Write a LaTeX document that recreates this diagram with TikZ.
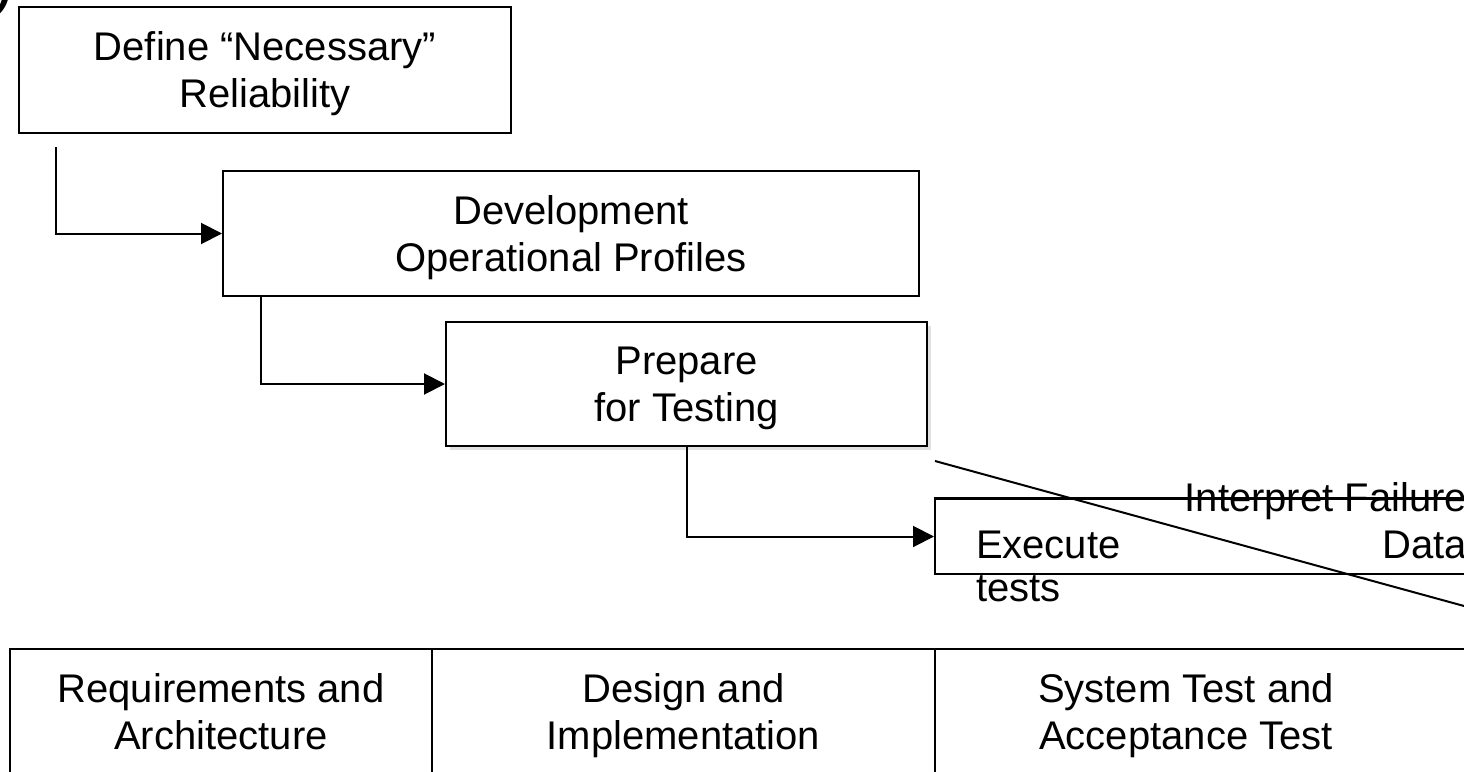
\documentclass[tikz,border=0pt]{standalone}
\usepackage{fontspec}
\setmainfont{Liberation Sans}
\usetikzlibrary{arrows.meta,shadows}
\begin{document}
\begin{tikzpicture}[x=1pt,y=-1pt,line width=2pt,
  txt/.style={font=\fontsize{40}{47}\selectfont},
  procbox/.style={draw=black,line width=2pt,fill=white,txt,align=center,
    inner sep=0pt,text depth=0pt},
  conn/.style={draw=black,line width=2pt,-{Triangle[length=21pt,width=21pt]}},
  plain/.style={draw=black,line width=2pt},
  lbl/.style={txt,inner sep=0pt,align=center,text depth=0pt,anchor=south},
  shade/.style={drop shadow={shadow xshift=4pt,shadow yshift=-4pt,fill=black!12,opacity=1}}]
\useasboundingbox (0,0) rectangle (1464,771);
% corner glyph (cut-off label)
\node[inner sep=0pt,anchor=base west,font=\fontsize{44}{50}\selectfont\bfseries\itshape] (corner) at (-5,6) {)};
% process boxes
\node[procbox,minimum width=492pt,minimum height=126pt] (def) at (265,70)
  {Define “Necessary”\\Reliability};
\node[procbox,minimum width=696pt,minimum height=125pt] (dev) at (571,233.5)
  {Development\\Operational Profiles};
\node[procbox,shade,minimum width=481pt,minimum height=124pt] (prep) at (686.5,384)
  {Prepare\\for Testing};
\node[draw=black,line width=2pt,fill=none,inner sep=0pt,minimum width=585pt,minimum height=75pt] (exec) at (1227.5,536.5) {};
% execute texts
\node[txt,inner sep=0pt,anchor=base west] (ex1) at (975,558) {Execute};
\node[txt,inner sep=0pt,anchor=base west] (ex2) at (975,601) {tests};
\node[txt,inner sep=0pt,anchor=base east] (in1) at (1468,511) {Interpret Failure};
\node[txt,inner sep=0pt,anchor=base east] (in2) at (1468,558) {Data};
% execute box top edge drawn over text (strike-through look)
\draw[plain] (exec.north west) -- (exec.north east);
% diagonal line
\coordinate (d1) at (935,461);
\coordinate (d2) at (1475,609);
\draw[plain] (d1) -- (d2);
% connectors
\draw[conn] ([xshift=38pt,yshift=-13pt]def.south west) |- (dev.west);
\draw[conn] ([xshift=39pt]dev.south west) |- (prep.west);
\draw[conn] (prep.south) |- (exec.west);
% phase table
\draw[plain] (10,790) -- (10,649) -- (1480,649);
\draw[plain] (432,649) -- (432,790);
\draw[plain] (935,649) -- (935,790);
\node[lbl] (ph1) at (221,750) {Requirements and\\Architecture};
\node[lbl] (ph2) at (683.5,750) {Design and\\Implementation};
\node[lbl] (ph3) at (1186,750) {System Test and\\Acceptance Test};
\end{tikzpicture}
\end{document}
